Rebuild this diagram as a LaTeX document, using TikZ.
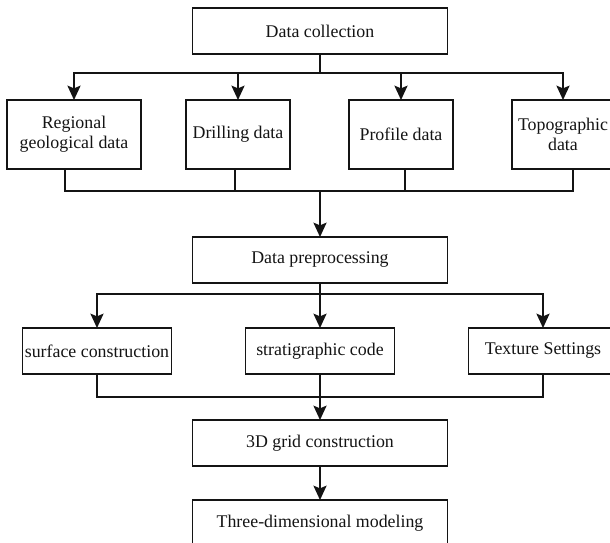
\documentclass[tikz,border=0pt]{standalone}
\usepackage{fontspec}
\setmainfont{Liberation Serif}
\usepackage{xcolor}
\definecolor{inkblack}{HTML}{141414}
\usetikzlibrary{arrows.meta, positioning, calc}
\tikzset{
  flowbox/.style ={rectangle, draw=inkblack, line width=1.1pt, fill=white, text=inkblack, align=center,
                   inner sep=0.5mm, outer sep=0pt, minimum height=1.15cm, font=\fontsize{12.7}{14.3}\selectfont},
  mainbox/.style ={flowbox, minimum width=6.375cm},
  srcbox/.style  ={flowbox, minimum height=1.725cm},
  stepbox/.style ={flowbox, minimum width=3.725cm},
  farr/.style ={-{Stealth[length=3.6mm, width=3.3mm, inset=0.7mm]}, line width=1.1pt, color=inkblack},
  fline/.style={line width=1.1pt, color=inkblack},
}
\begin{document}
\begin{tikzpicture}
  \clip (-8,0.775) rectangle (7.25,-12.8);
  \node[mainbox] (dc) at (0,0) {Data collection};
  \node[srcbox, minimum width=3.35cm, below=1.15cm of dc, xshift=-6.15cm] (g1) {Regional\\geological data};
  \node[srcbox, minimum width=2.6cm, right=1.125cm of g1] (g2) {Drilling data};
  \node[srcbox, minimum width=2.6cm, right=1.475cm of g2] (g3) {Profile data};
  \node[srcbox, minimum width=2.55cm, right=1.475cm of g3] (g4) {Topographic\\data};
  \node[mainbox, below=4.575cm of dc] (dp) {Data preprocessing};
  \node[stepbox, below=1.125cm of dp] (s2) {stratigraphic code};
  \node[stepbox, left=1.85cm of s2] (s1) {surface construction};
  \node[stepbox, right=1.85cm of s2] (s3) {Texture Settings};
  \node[mainbox, below=1.15cm of s2] (gr) {3D grid construction};
  \node[mainbox, below=0.85cm of gr] (md) {Three-dimensional modeling};
  % split and join points
  \coordinate (sp1) at ($(dc.south)+(0,-0.475)$);
  \coordinate (jn1) at ($(dc.south |- g1.south)+(0,-0.55)$);
  \coordinate (sp2) at ($(dp.south)+(0,-0.275)$);
  \coordinate (jn2) at ($(s2.south)+(0,-0.575)$);
  \draw[fline] (dc.south) -- (sp1);
  \draw[farr] (sp1) -| (g1.north); \draw[farr] (sp1) -| (g2.north); \draw[farr] (sp1) -| (g3.north); \draw[farr] (sp1) -| (g4.north);
  \draw[fline] ([xshift=-2.25mm]g1.south) |- (jn1); \draw[fline] ([xshift=-0.75mm]g2.south) |- (jn1);
  \draw[fline] ([xshift=1mm]g3.south) |- (jn1); \draw[fline] ([xshift=2.5mm]g4.south) |- (jn1);
  \draw[farr] (jn1) -- (dp.north);
  \draw[fline] (dp.south) -- (sp2);
  \draw[farr] (sp2) -| (s1.north); \draw[farr] (sp2) -- (s2.north); \draw[farr] (sp2) -| (s3.north);
  \draw[fline] (s1.south) |- (jn2); \draw[fline] (s2.south) -- (jn2); \draw[fline] (s3.south) |- (jn2);
  \draw[farr] (jn2) -- (gr.north);
  \draw[farr] (gr.south) -- (md.north);
\end{tikzpicture}
\end{document}
